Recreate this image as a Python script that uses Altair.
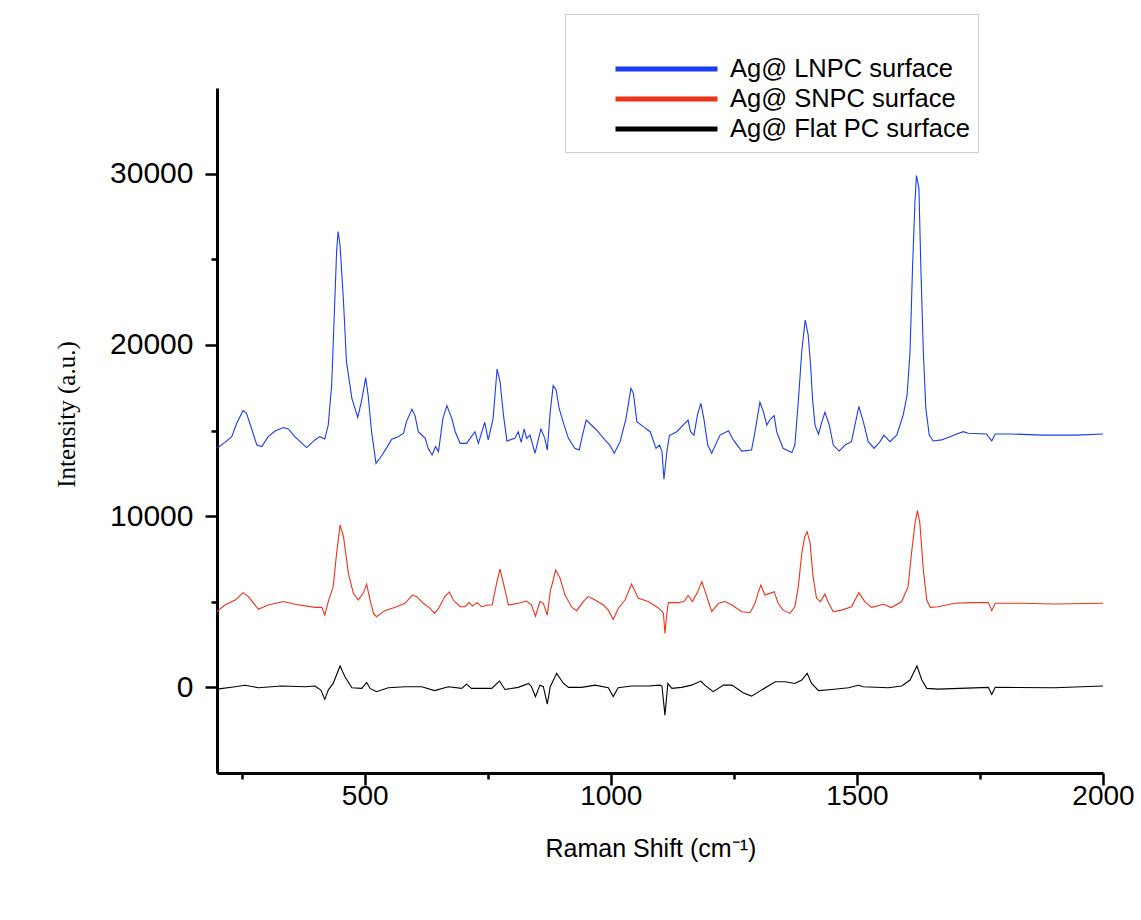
import altair as alt
import pandas as pd

# ---------------- data ----------------
SERIES = ["Ag@ LNPC surface", "Ag@ SNPC surface", "Ag@ Flat PC surface"]
COLORS = ["#1a3cf2", "#f0321a", "#000000"]

lnpc_x = [200, 216, 230, 240, 253, 260, 270, 281, 291, 304, 318, 335, 345, 358, 382, 399, 409, 419, 426, 433,
          438, 443, 446, 450, 457, 463, 474, 486, 494, 502, 507, 514, 523, 531, 545, 555, 568, 579, 585, 596,
          602, 609, 623, 629, 637, 644, 650, 659, 667, 677, 684, 694, 707, 724, 731, 744, 751, 761, 769, 775,
          782, 789, 805, 812, 818, 824, 829, 836, 846, 858, 866, 871, 877, 883, 889, 895, 904, 914, 927, 936,
          941, 950, 971, 988, 998, 1007, 1019, 1031, 1041, 1046, 1053, 1066, 1080, 1092, 1099, 1104, 1108, 1114, 1119, 1134,
          1147, 1157, 1162, 1169, 1176, 1183, 1189, 1197, 1205, 1222, 1239, 1249, 1266, 1286, 1293, 1303, 1310, 1317, 1323, 1332,
          1337, 1350, 1368, 1374, 1381, 1388, 1395, 1401, 1406, 1410, 1415, 1422, 1428, 1435, 1444, 1452, 1464, 1476, 1489, 1496,
          1504, 1513, 1523, 1535, 1547, 1555, 1567, 1581, 1594, 1602, 1608, 1613, 1618, 1621, 1626, 1630, 1635, 1640, 1647, 1655,
          1672, 1689, 1703, 1716, 1726, 1763, 1774, 1781, 1811, 1878, 1946, 2000]
lnpc_y = [13960, 14310, 14640, 15420, 16160, 16000, 15130, 14150, 14060, 14640, 14970, 15170, 15090, 14640, 14000, 14450, 14640, 14500, 15320, 17660,
          21550, 25450, 26620, 25830, 22530, 19020, 16880, 15770, 16780, 18090, 17070, 14930, 13080, 13380, 14000, 14490, 14640, 14840, 15520, 16240,
          15900, 14930, 14540, 13960, 13570, 14060, 13770, 15710, 16450, 15710, 14930, 14250, 14250, 14930, 14250, 15480, 14450, 15710, 18590, 17860,
          15900, 14390, 14540, 14930, 14310, 15090, 14540, 14730, 13670, 15090, 14540, 13860, 16100, 17620, 17370, 16300, 15420, 14540, 13960, 13860,
          14540, 15610, 15030, 14450, 14150, 13670, 14350, 15710, 17460, 17170, 15520, 15230, 14930, 13960, 14150, 13770, 12150, 13770, 14700, 14930,
          15320, 15610, 14930, 14730, 15900, 16590, 15710, 14150, 13670, 14730, 14990, 14450, 13800, 13860, 14930, 16650, 16100, 15320, 15610, 15870,
          14930, 13960, 13710, 14150, 16690, 19610, 21450, 20580, 18800, 16800, 15300, 14780, 15420, 16060, 15320, 14150, 13800, 14150, 14350, 15320,
          16400, 15520, 14350, 13960, 14350, 14730, 14350, 14730, 15900, 17070, 19610, 24470, 28370, 29890, 29150, 24470, 19610, 16300, 14730, 14390,
          14450, 14640, 14800, 14930, 14840, 14800, 14390, 14800, 14800, 14730, 14730, 14800]

snpc_x = [200, 216, 237, 253, 264, 284, 304, 335, 358, 399, 413, 419, 426, 436, 443, 450, 457, 467, 477, 487,
          497, 504, 511, 518, 524, 541, 565, 582, 597, 606, 619, 633, 642, 650, 663, 672, 680, 694, 704, 712,
          719, 728, 738, 751, 759, 768, 775, 782, 792, 812, 829, 839, 847, 856, 863, 871, 877, 888, 897, 907,
          921, 931, 944, 954, 968, 985, 995, 1005, 1015, 1029, 1042, 1056, 1076, 1093, 1102, 1107, 1110, 1114, 1117, 1137,
          1149, 1157, 1166, 1175, 1185, 1193, 1205, 1219, 1232, 1246, 1266, 1283, 1293, 1300, 1305, 1313, 1323, 1332, 1340, 1350,
          1364, 1374, 1381, 1388, 1394, 1399, 1405, 1411, 1418, 1426, 1435, 1441, 1452, 1469, 1489, 1504, 1516, 1530, 1554, 1570,
          1591, 1604, 1611, 1618, 1623, 1628, 1635, 1642, 1649, 1665, 1699, 1733, 1767, 1774, 1781, 1835, 1902, 2000]
snpc_y = [4420, 4810, 5100, 5530, 5300, 4560, 4810, 5010, 4850, 4670, 4670, 4220, 5010, 5880, 7830, 9480, 8800, 6660, 5490, 5100,
          5490, 6030, 5100, 4320, 4130, 4480, 4710, 4910, 5390, 5300, 4910, 4610, 4320, 4610, 5300, 5570, 5100, 4710, 4710, 4950,
          4750, 4950, 4710, 4810, 4810, 6070, 6910, 6070, 4810, 4910, 5040, 4810, 4160, 5010, 4910, 4220, 5590, 6850, 6370, 5390,
          4670, 4480, 5010, 5300, 5100, 4810, 4510, 3970, 4610, 5100, 6030, 5200, 5010, 4710, 4510, 4320, 3150, 4320, 4950, 4950,
          5010, 5370, 5010, 5490, 6170, 5490, 4420, 4910, 5010, 4810, 4420, 4360, 4910, 5590, 5980, 5390, 5490, 5590, 4910, 4510,
          4320, 4710, 5880, 7830, 8800, 9090, 8410, 6470, 5200, 5010, 5450, 5010, 4420, 4510, 4710, 5530, 5010, 4670, 4850, 4660,
          5010, 5880, 7830, 9580, 10320, 9580, 6850, 5100, 4670, 4710, 4910, 4950, 4950, 4480, 4910, 4910, 4870, 4910]

flat_x = [200, 237, 257, 284, 331, 379, 399, 411, 419, 426, 436, 450, 460, 474, 494, 504, 511, 524, 548, 582,
          616, 642, 670, 697, 707, 717, 758, 774, 785, 812, 833, 839, 847, 856, 863, 871, 877, 890, 904, 914,
          941, 968, 995, 1005, 1015, 1042, 1076, 1100, 1104, 1110, 1116, 1124, 1144, 1164, 1183, 1191, 1208, 1229, 1246, 1269,
          1286, 1306, 1334, 1354, 1374, 1388, 1399, 1408, 1422, 1449, 1483, 1503, 1513, 1564, 1591, 1608, 1622, 1632, 1642, 1665,
          1767, 1774, 1781, 1902, 2000]
flat_y = [-100, 40, 120, -20, 80, 40, 80, -160, -700, -160, 230, 1250, 620, -20, -60, 290, -60, -250, -20, 40,
          40, -190, 40, -60, 190, -60, -60, 370, -120, 0, 230, 40, -540, 130, 40, -980, 40, 820, 230, 0,
          0, 130, -20, -540, -20, 80, 80, 130, 80, -1620, 230, -60, 0, 130, 370, 130, -250, 130, 130, -310,
          -510, -160, 330, 330, 230, 430, 820, 230, -190, -120, -20, 120, 40, -20, 80, 430, 1250, 430, -60, -100,
          0, -410, 0, -20, 80]

X_MAJOR = [500, 1000, 1500, 2000]
X_MINOR = [250, 750, 1250, 1750]
Y_MAJOR = [0, 10000, 20000, 30000]
Y_MINOR = [5000, 15000, 25000]

rows = []
for name, xs, ys in [(SERIES[0], lnpc_x, lnpc_y), (SERIES[1], snpc_x, snpc_y), (SERIES[2], flat_x, flat_y)]:
    for xv, yv in zip(xs, ys):
        rows.append({"shift": xv, "intensity": yv, "series": name})
df = pd.DataFrame(rows)

# ---------------- chart ----------------
xscale = alt.Scale(domain=[200, 2000], nice=False, zero=False)
yscale = alt.Scale(domain=[-5000, 35000], nice=False, zero=False)

NARROW = "Liberation Sans Narrow, Arial Narrow, Liberation Sans, Arial"
SANS = "Liberation Sans, Arial"
SERIF = "Liberation Serif, Times New Roman"

main = alt.Chart(df).mark_line(strokeWidth=1.1).encode(
    x=alt.X("shift:Q", scale=xscale,
            axis=alt.Axis(values=X_MAJOR, format="d", grid=False,
                          domainColor="black", domainWidth=3,
                          tickColor="black", tickWidth=2.5, tickSize=12,
                          labelFont=NARROW, labelFontSize=28, labelColor="black",
                          labelPadding=-3, labelFlush=False,
                          title="Raman Shift (cm⁻¹)", titleFont=NARROW, titleFontSize=25,
                          titleFontWeight="normal", titleColor="black",
                          titleAlign="left", titleBaseline="middle",
                          titleX=328, titleY=75)),
    y=alt.Y("intensity:Q", scale=yscale,
            axis=alt.Axis(values=Y_MAJOR, format="d", grid=False,
                          domainColor="black", domainWidth=3,
                          tickColor="black", tickWidth=2.5, tickSize=12,
                          labelFont=SANS, labelFontSize=30, labelColor="black",
                          labelPadding=12,
                          title="Intensity (a.u.)", titleFont=SERIF, titleFontSize=25,
                          titleFontWeight="normal", titleColor="black",
                          titleAngle=270, titleAlign="center", titleBaseline="middle",
                          titleX=-151, titleY=326)),
    color=alt.Color("series:N", scale=alt.Scale(domain=SERIES, range=COLORS),
                    legend=alt.Legend(orient="none", legendX=348, legendY=-74,
                                      title="\u00a0", titleFont=SANS,
                                      titleFontSize=24, titlePadding=8, padding=8,
                                      strokeColor="#cccccc", fillColor="white",
                                      symbolType="stroke", symbolSize=10404,
                                      symbolStrokeWidth=5, clipHeight=30,
                                      symbolOffset=40, labelOffset=10,
                                      labelFont=SANS, labelFontSize=25.5, labelColor="black",
                                      labelLimit=600, rowPadding=0)),
)

minor = alt.Chart(df).mark_line(opacity=0).encode(
    x=alt.X("shift:Q", scale=xscale,
            axis=alt.Axis(values=X_MINOR, orient="bottom", labels=False, domain=False, grid=False,
                          tickColor="black", tickWidth=2.5, tickSize=6, title=None)),
    y=alt.Y("intensity:Q", scale=yscale,
            axis=alt.Axis(values=Y_MINOR, orient="left", labels=False, domain=False, grid=False,
                          tickColor="black", tickWidth=2.5, tickSize=6, title=None)),
    detail="series:N",
)

chart = (
    alt.layer(main, minor)
    .resolve_axis(x="independent", y="independent")
    .properties(width=886, height=685, autosize="none",
                padding={"left": 217, "top": 88, "right": 38, "bottom": 147},
                background="white")
    .configure_view(stroke=None)
)

chart.save("out.html", embed_options={"renderer": "svg", "actions": False})
